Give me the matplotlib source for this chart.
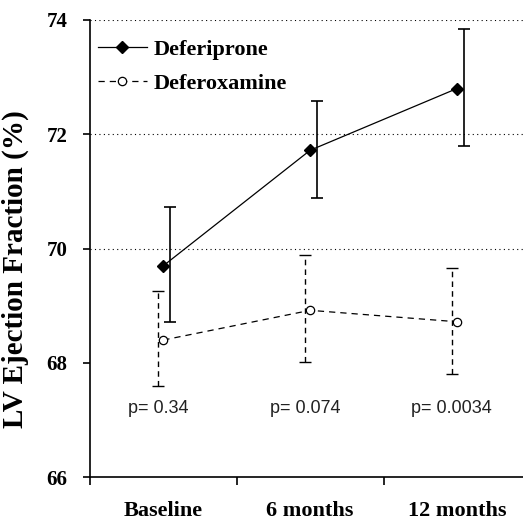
import matplotlib
matplotlib.use("Agg")
import numpy as np
from matplotlib import pyplot as plt

categories = ["Baseline", "6 months", "12 months"]
deferiprone = [69.7, 71.72, 72.8]
deferiprone_hi = [70.72, 72.58, 73.85]
deferiprone_lo = [68.72, 70.88, 71.8]
deferoxamine = [68.4, 68.92, 68.72]
deferoxamine_hi = [69.26, 69.88, 69.66]
deferoxamine_lo = [67.59, 68.02, 67.8]
p_labels = ["p= 0.34", "p= 0.074", "p= 0.0034"]
grid_levels = [70, 72, 74]

serif = ["Liberation Serif", "DejaVu Serif"]

fig = plt.figure(figsize=(5.23, 5.25), dpi=100)
ax = fig.add_axes([0.172, 0.091, 0.828, 0.871])

x = np.arange(len(categories)) + 0.5

for g in grid_levels:
    ax.axhline(g, color="black", lw=0.8, linestyle=(0, (1, 3)), zorder=1)

# error bars sit a little beside the markers, like in the original
dp = np.array(deferiprone)
dx = np.array(deferoxamine)
ax.errorbar(x + 0.045, dp, yerr=[dp - deferiprone_lo, np.array(deferiprone_hi) - dp],
            fmt="none", ecolor="black", elinewidth=1.2, capsize=4, capthick=1.2, zorder=2)
eb = ax.errorbar(x - 0.035, dx, yerr=[dx - deferoxamine_lo, np.array(deferoxamine_hi) - dx],
                 fmt="none", ecolor="black", elinewidth=1.0, capsize=4, capthick=1.0, zorder=2)
eb[2][0].set_linestyle((0, (4, 3)))

ax.plot(x, deferiprone, color="black", lw=0.9, marker="D", markersize=6,
        markerfacecolor="black", label="Deferiprone", zorder=3)
ax.plot(x, deferoxamine, color="black", lw=0.9, linestyle=(0, (5, 4)), marker="o",
        markersize=6, markerfacecolor="white", markeredgewidth=0.9,
        label="Deferoxamine", zorder=3)

for xi, t in zip(x, p_labels):
    ax.text(xi - 0.035, 67.2, t, ha="center", va="center", fontsize=13,
            family=["Liberation Sans", "DejaVu Sans"], color="#222222")

ax.set_xlim(0, 2.95)
ax.set_ylim(66, 74)
ax.set_yticks([66, 68, 70, 72, 74])
ax.set_yticklabels(["66", "68", "70", "72", "74"], family=serif, fontsize=15, fontweight="bold")
ax.set_xticks([0, 1, 2])
ax.set_xticklabels([])
ax.set_xticks(x, minor=True)
ax.set_xticklabels(categories, minor=True, family=serif, fontsize=16, fontweight="bold")
ax.tick_params(axis="x", which="minor", length=0, pad=17)
ax.tick_params(axis="x", which="major", length=6, width=1.2, direction="out")
ax.tick_params(axis="y", length=5, width=1.2, direction="out", pad=11)

for side in ["top", "right"]:
    ax.spines[side].set_visible(False)
ax.spines["left"].set_linewidth(1.2)
ax.spines["bottom"].set_linewidth(1.2)

ax.set_ylabel("LV Ejection Fraction (%)", family=serif, fontsize=21, fontweight="bold")
ax.yaxis.set_label_coords(-0.14, 0.455)

leg = ax.legend(loc="upper left", bbox_to_anchor=(-0.018, 0.992), frameon=False,
                prop={"family": serif, "size": 16, "weight": "bold"},
                handlelength=2.2, handletextpad=0.3, labelspacing=0.62, borderaxespad=0.3)

fig.savefig("out.png", dpi=100, facecolor="white")
